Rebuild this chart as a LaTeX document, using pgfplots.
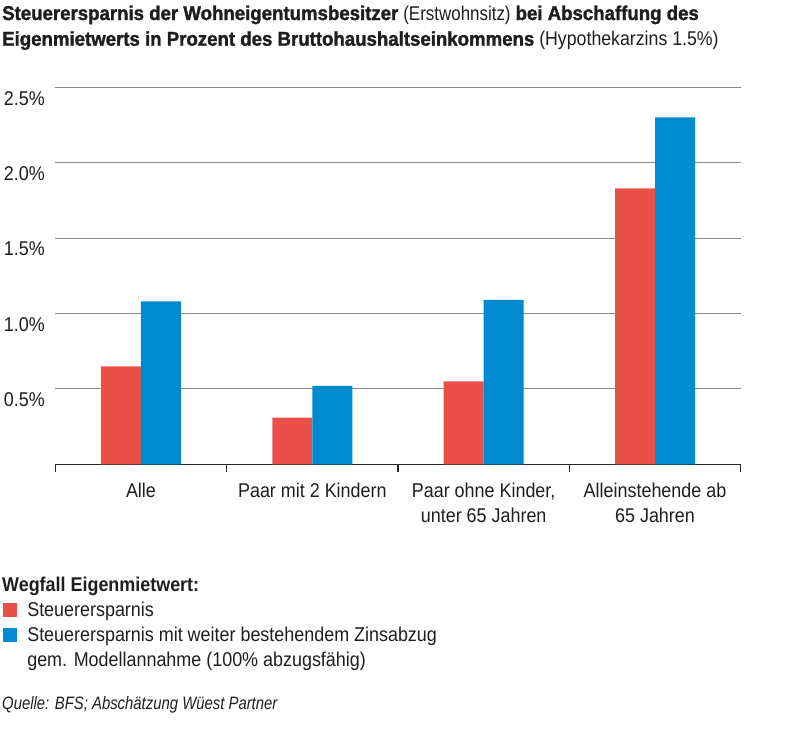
\documentclass[border=0pt]{standalone}
\usepackage{fontspec}
\setmainfont{Liberation Sans}[FakeStretch=0.9]
\newfontfamily\titlefont{Liberation Sans}[FakeStretch=0.935, BoldFeatures={FakeBold=1.5}]
\newfontfamily\titlelight{Liberation Sans}[FakeStretch=0.85]
\newfontfamily\titlelightB{Liberation Sans}[FakeStretch=0.89]
\newfontfamily\srcfont{Liberation Sans}[FakeStretch=0.83]
\usepackage{pgfplots}
\pgfplotsset{compat=1.18}
\definecolor{cred}{RGB}{232,80,72}
\definecolor{cblue}{RGB}{0,139,208}
\definecolor{gridc}{RGB}{135,135,135}
\definecolor{axc}{RGB}{40,40,40}
\definecolor{txt}{RGB}{30,30,30}
\begin{document}
\begin{tikzpicture}
\useasboundingbox (0bp,0bp) rectangle (800bp,-743bp);
\node[anchor=base west, inner sep=0pt, text=txt, font=\fontsize{20}{24}\selectfont] at (2bp,-20bp)
  {{\titlefont\bfseries Steuerersparnis der Wohneigentumsbesitzer} {\titlelight (Erstwohnsitz)} {\titlefont\bfseries bei Abschaffung des}};
\node[anchor=base west, inner sep=0pt, text=txt, font=\fontsize{20}{24}\selectfont] at (2bp,-45.7bp)
  {{\titlefont\bfseries Eigenmietwerts in Prozent des Bruttohaushaltseinkommens} {\titlelightB (Hypothekarzins 1.5\%)}};
\node[anchor=base west, inner sep=0pt, text=txt, font=\fontsize{20}{24}\selectfont\bfseries] at (2bp,-591.7bp) {Wegfall Eigenmietwert:};
\node[anchor=base west, inner sep=0pt, text=txt, font=\fontsize{18}{22}\selectfont] at (2bp,-709bp) {\srcfont\itshape Quelle: BFS; Abschätzung Wüest Partner};
\begin{axis}[
  at={(55.3bp,-464.3bp)}, anchor=south west,
  scale only axis, width=685.4bp, height=377bp,
  ymin=0, ymax=2.5, ytick={0.5,1,1.5,2,2.5},
  xmin=-0.5, xmax=3.5, xtick={0,1,2,3},
  xticklabels={Alle, Paar mit 2 Kindern, {Paar ohne Kinder,\\unter 65 Jahren}, {Alleinstehende ab\\65 Jahren}},
  minor xtick={-0.5,0.5,1.5,2.5,3.5},
  axis x line*=bottom, axis y line*=left,
  y axis line style={draw=none},
  x axis line style={axc, line width=1.3bp, -},
  major tick length=0bp, minor tick length=8bp, tick align=outside,
  major x tick style={draw=none}, minor x tick style={axc, line width=1.3bp},
  ytick style={draw=none},
  ymajorgrids, grid style={gridc, line width=0.9bp},
  ybar, bar width=40bp,
  /pgf/number format/assume math mode=true,
  yticklabel={\pgfmathprintnumber[fixed,fixed zerofill,precision=1]{\tick}\%},
  tick label style={font=\fontsize{20}{25}\selectfont, text=txt},
  yticklabel style={anchor=base east, inner sep=0pt, xshift=-10.3bp, yshift=-17.7bp},
  xticklabel style={align=center, anchor=north, inner sep=0pt, yshift=-19bp},
  legend style={at={(0,0)}, anchor=north west, xshift=-52.3bp, yshift=-137.9bp,
    draw=none, fill=none, inner sep=0pt, outer sep=0pt, row sep=6.2bp,
    font=\fontsize{20}{24}\selectfont, text=txt,
    nodes={inner sep=0pt, text height=14.5bp, text depth=4bp},
    /tikz/every odd column/.append style={column sep=10.3bp}},
  legend cell align=left,
]
\addplot[fill=cred, draw=none, bar shift=-20bp,
  legend image code/.code={\fill[cred] (0bp,-5.95bp) rectangle (14bp,8.05bp);}]
  coordinates {(0,0.65) (1,0.31) (2,0.55) (3,1.83)};
\addlegendentry{Steuerersparnis}
\addplot[fill=cblue, draw=none, bar shift=20bp,
  legend image code/.code={\fill[cblue] (0bp,-5.95bp) rectangle (14bp,8.05bp);}]
  coordinates {(0,1.08) (1,0.52) (2,1.09) (3,2.30)};
\addlegendentry{Steuerersparnis mit weiter bestehendem Zinsabzug}
\addlegendimage{legend image code/.code={}}
\addlegendentry{gem. Modellannahme (100\% abzugsfähig)}
\end{axis}
\end{tikzpicture}
\end{document}
